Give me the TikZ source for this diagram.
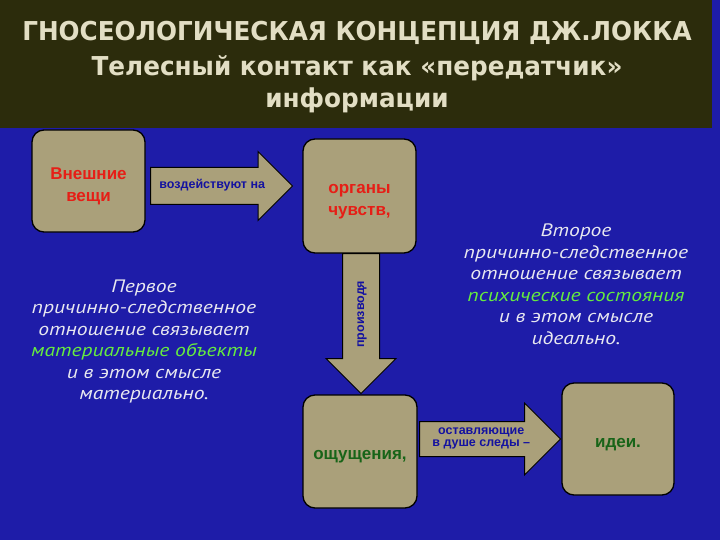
\documentclass[tikz,border=0pt]{standalone}
\usepackage{fontspec}
\setmainfont{Liberation Sans}
\newfontfamily\headfont{DejaVu Sans}[FakeStretch=0.95]
\newfontfamily\notefont{PT Sans}[FakeStretch=1.2]
\usetikzlibrary{shapes.arrows}
\pgfdeclarelayer{bg}
\pgfsetlayers{bg,main}
\definecolor{slideblue}{RGB}{30,28,168}
\definecolor{bannerdark}{RGB}{44,44,12}
\definecolor{khaki}{RGB}{170,160,122}
\definecolor{headbeige}{RGB}{226,222,196}
\definecolor{boxred}{RGB}{230,30,22}
\definecolor{boxgreen}{RGB}{24,100,24}
\definecolor{arrowblue}{RGB}{20,18,160}
\definecolor{notewhite}{RGB}{232,232,240}
\definecolor{notegreen}{RGB}{102,236,64}

\begin{document}
\begin{tikzpicture}[
        box/.style={draw=black, line width=1.3pt, fill=khaki, rounded corners=12pt},
        boxtext/.style={yshift=-5.5pt, align=center, font=\fontsize{17}{21.5}\selectfont\bfseries},
        blockarrow/.style={single arrow, anchor=tail, draw=black, line width=1pt, fill=khaki,
                inner xsep=2pt, align=center, text=arrowblue,
                font=\fontsize{12.5}{12}\selectfont\bfseries},
        note/.style={align=center, text=notewhite,
                font=\notefont\itshape\fontsize{18}{21.5}\selectfont},
        headtext/.style={align=center, text=headbeige,
                font=\headfont\bfseries\fontsize{26}{32}\selectfont}
]
        \useasboundingbox (0pt, 0pt) rectangle (720pt, -540pt);
        \node (head) [headtext] at (357pt, -33pt) {ГНОСЕОЛОГИЧЕСКАЯ КОНЦЕПЦИЯ ДЖ.ЛОККА};
        \node (sub) [headtext] at (357pt, -84pt) {Телесный контакт как «передатчик»\\информации};
        \node (things) [box, minimum width=113pt, minimum height=102pt,
                label={[boxtext, text=boxred]center:{Внешние\\вещи}}] at (88.5pt, -181pt) {};
        \node (senses) [box, minimum width=113pt, minimum height=114pt,
                label={[boxtext, text=boxred]center:{органы\\чувств,}}] at (359.5pt, -196pt) {};
        \node (feel) [box, minimum width=114pt, minimum height=113pt,
                label={[boxtext, text=boxgreen]center:{ощущения,}}] at (360pt, -451.5pt) {};
        \node (ideas) [box, minimum width=112pt, minimum height=112pt,
                label={[boxtext, text=boxgreen]center:{идеи.}}] at (618pt, -439pt) {};
        \node (act) [blockarrow, text height=9pt, text depth=3pt, inner ysep=12pt,
                single arrow head extend=16pt, minimum height=142pt,
                minimum width=68pt] at (150pt, -186pt) {воздействуют на};
        \node (make) [blockarrow, rotate=90, shape border rotate=180, text height=9pt,
                text depth=3pt, inner ysep=12pt, single arrow head extend=16.5pt,
                minimum height=140pt, minimum width=69pt] at (361pt, -253pt) {производя};
        \node (leave) [blockarrow, text height=19pt, text depth=5pt, inner ysep=5pt,
                single arrow head extend=18.5pt, minimum height=141pt,
                minimum width=71pt] at (419pt, -439pt) {оставляющие\\в душе следы –};
        \node (first) [note] at (144pt, -341.5pt) {Первое\\причинно-следственное\\отношение связывает\\\textcolor{notegreen}{материальные объекты}\\и в этом смысле\\материально.};
        \node (second) [note] at (576pt, -284pt) {Второе\\причинно-следственное\\отношение связывает\\\textcolor{notegreen}{психические состояния}\\и в этом смысле\\идеально.};
        \begin{pgfonlayer}{bg}
                \fill [slideblue] (0pt, 0pt) rectangle (720pt, -540pt);
                \fill [bannerdark] (0pt, 0pt) rectangle (712pt, -128pt);
        \end{pgfonlayer}
\end{tikzpicture}
\end{document}
